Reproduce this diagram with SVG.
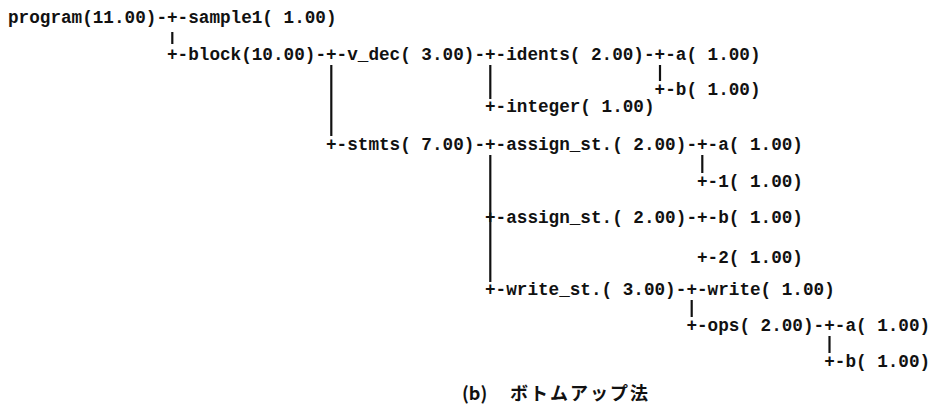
<svg xmlns="http://www.w3.org/2000/svg" width="935" height="409" viewBox="0 0 935 409">
<style>
text{font-family:"Liberation Mono","DejaVu Sans Mono",monospace;font-size:17.67px;font-weight:bold;fill:#111;white-space:pre}
.bar{stroke:#111;stroke-width:2.2;fill:none}
.cap{font-family:"Noto Sans CJK JP","Noto Sans CJK SC",sans-serif;font-size:18px;font-weight:bold}
</style>
<rect width="935" height="409" fill="#fff"/>
<g id="connectors">
<text x="156.4" y="23">-+-</text>
<text x="315.4" y="60">-+-</text>
<text x="474.4" y="60">-+-</text>
<text x="644" y="60">-+-</text>
<text x="167" y="60">+-</text>
<text x="654.6" y="95">+-</text>
<text x="485" y="112">+-</text>
<text x="326" y="150">+-</text>
<text x="474.4" y="150">-+-</text>
<text x="686.4" y="150">-+-</text>
<text x="697" y="187">+-</text>
<text x="485" y="223">+-</text>
<text x="686.4" y="223">-+-</text>
<text x="697" y="263">+-</text>
<text x="485" y="295">+-</text>
<text x="675.8" y="295">-+-</text>
<text x="686.4" y="331">+-</text>
<text x="813.6" y="331">-+-</text>
<text x="824.2" y="367">+-</text>
<line class="bar" x1="172.3" y1="32" x2="172.3" y2="44"/>
<line class="bar" x1="331.3" y1="65" x2="331.3" y2="136"/>
<line class="bar" x1="490.3" y1="65" x2="490.3" y2="99"/>
<line class="bar" x1="660" y1="65" x2="660" y2="81"/>
<line class="bar" x1="490.3" y1="155" x2="490.3" y2="282"/>
<line class="bar" x1="702.3" y1="155" x2="702.3" y2="173"/>
<line class="bar" x1="691.7" y1="300" x2="691.7" y2="317"/>
<line class="bar" x1="829.5" y1="336" x2="829.5" y2="353"/>
</g>
<g id="n-program"><text x="8" y="23">program(11.00)</text></g>
<g id="n-sample1"><text x="188.2" y="23">sample1( 1.00)</text></g>
<g id="n-block"><text x="188.2" y="60">block(10.00)</text></g>
<g id="n-v_dec"><text x="347.2" y="60">v_dec( 3.00)</text></g>
<g id="n-idents"><text x="506.2" y="60">idents( 2.00)</text></g>
<g id="n-a1"><text x="675.8" y="60">a( 1.00)</text></g>
<g id="n-b1"><text x="675.8" y="95">b( 1.00)</text></g>
<g id="n-integer"><text x="506.2" y="112">integer( 1.00)</text></g>
<g id="n-stmts"><text x="347.2" y="150">stmts( 7.00)</text></g>
<g id="n-assign1"><text x="506.2" y="150">assign_st.( 2.00)</text></g>
<g id="n-a2"><text x="718.2" y="150">a( 1.00)</text></g>
<g id="n-one"><text x="718.2" y="187">1( 1.00)</text></g>
<g id="n-assign2"><text x="506.2" y="223">assign_st.( 2.00)</text></g>
<g id="n-b2"><text x="718.2" y="223">b( 1.00)</text></g>
<g id="n-two"><text x="718.2" y="263">2( 1.00)</text></g>
<g id="n-write_st"><text x="506.2" y="295">write_st.( 3.00)</text></g>
<g id="n-write"><text x="707.6" y="295">write( 1.00)</text></g>
<g id="n-ops"><text x="707.6" y="331">ops( 2.00)</text></g>
<g id="n-a3"><text x="845.4" y="331">a( 1.00)</text></g>
<g id="n-b3"><text x="845.4" y="367">b( 1.00)</text></g>
<g id="caption"><text class="cap" y="400"><tspan x="462">(b)</tspan><tspan x="510" letter-spacing="2">ボトムアップ法</tspan></text></g>
</svg>
